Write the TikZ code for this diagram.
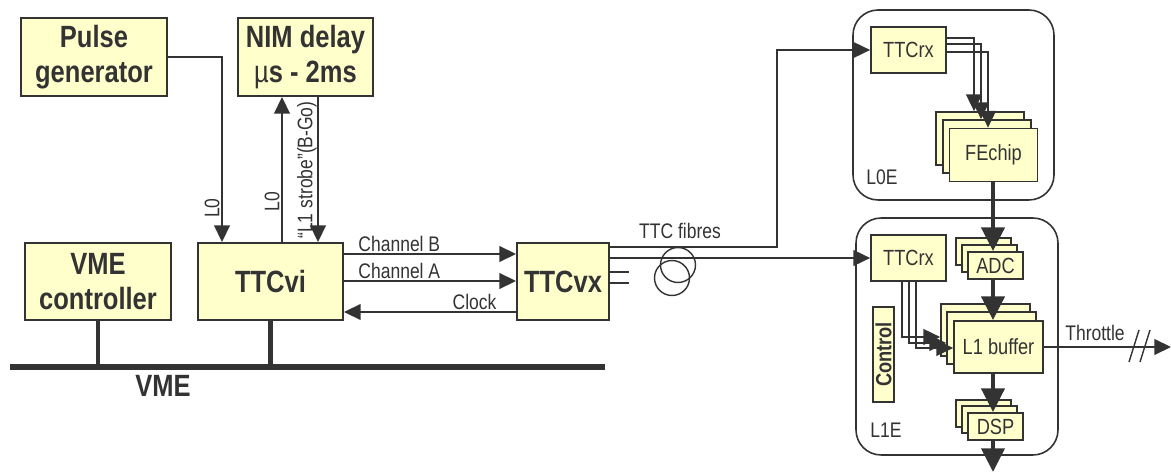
\documentclass[tikz,border=0pt]{standalone}
\usepackage{fontspec}
\setmainfont{Liberation Sans}[FakeStretch=0.83]
\usepackage{tikz}
\usetikzlibrary{arrows.meta}
\definecolor{boxyellow}{RGB}{255,255,204}
\definecolor{inkgray}{RGB}{51,51,51}
\tikzset{
  blk/.style={draw=inkgray, line width=1.1pt, fill=boxyellow, text=inkgray,
    font=\bfseries\fontsize{17.5}{20}\selectfont, align=center, inner sep=0pt},
  chip/.style={draw=inkgray, line width=1pt, fill=boxyellow, text=inkgray,
    font=\fontsize{12.5}{14}\selectfont, inner sep=0pt},
  crate/.style={draw=inkgray, line width=0.9pt, rounded corners=0.5cm, inner sep=0pt},
  sig/.style={color=inkgray, line width=0.8pt, -{Triangle[length=9.5pt,width=9pt]}},
  wire/.style={color=inkgray, line width=0.8pt},
  bus/.style={color=inkgray, line width=3.6pt},
  stem/.style={color=inkgray, line width=2.4pt},
  fat/.style={color=inkgray, line width=2.6pt, -{Triangle[length=13.5pt,width=13pt]}},
  lbl/.style={text=inkgray, font=\fontsize{12}{14}\selectfont, inner sep=1pt},
}

\begin{document}
\begin{tikzpicture}[x=0.02cm, y=-0.02cm]

  \path[fill=white, use as bounding box] (0,0) rectangle (1171,473);

  \node[blk, minimum width=2.92cm, minimum height=1.56cm] (pg)  at (94,57)     {Pulse\\generator};
  \node[blk, minimum width=2.7cm,  minimum height=1.56cm] (nim) at (305.5,57)  {NIM delay\\{\mdseries µ}s - 2ms};
  \node[blk, minimum width=2.92cm, minimum height=1.54cm] (vc)  at (98,281.5)  {VME\\controller};
  \node[blk, minimum width=2.9cm,  minimum height=1.54cm] (vi)  at (270.5,281.5) {TTCvi};
  \node[blk, minimum width=1.84cm, minimum height=1.54cm] (vx)  at (563,281.5) {TTCvx};

  \coordinate (bus0) at (10,367);
  \coordinate (bus1) at (605,367);
  \draw[bus] (bus0) -- (bus1);
  \draw[stem] (vc) -- (vc |- bus0);
  \draw[stem] (vi) -- (vi |- bus0);
  \node[lbl, font=\bfseries\fontsize{17.5}{20}\selectfont] (vme) at (163,386) {VME};

  \coordinate (pgx) at (222,0);
  \coordinate (up)  at (282,0);
  \coordinate (dn)  at (318,0);
  \draw[sig] (pg) -| (vi.north -| pgx);
  \node[lbl, rotate=90] (l0pg) at (212,208) {L0};
  \draw[sig] (vi.north -| up) -- node[lbl, sloped, above, pos=0.28] (l0nim) {L0} (nim.south -| up);
  \draw[sig] (nim.south -| dn) -- (vi.north -| dn);
  \node[lbl, rotate=90] (strobe) at (307,170) {“L1 strobe”(B-Go)};

  \coordinate (chb) at (0,254);
  \coordinate (cha) at (0,281);
  \coordinate (clk) at (0,312);
  \draw[sig] (vi.east |- chb) -- node[lbl, anchor=south west, pos=0.07] (chblbl) {Channel B} (vx.west |- chb);
  \draw[sig] (vi.east |- cha) -- node[lbl, anchor=south west, pos=0.07] (chalbl) {Channel A} (vx.west |- cha);
  \draw[sig] (vx.west |- clk) -- node[lbl, anchor=south east, pos=0.1] (clklbl) {Clock} (vi.east |- clk);

  \node[crate, minimum width=4.02cm, minimum height=3.8cm]  (l0e) at (953.5,105) {};
  \node[crate, minimum width=4.04cm, minimum height=4.74cm] (l1e) at (957,336.5) {};
  \node[lbl] (l0elbl) at (882,177) {L0E};
  \node[lbl] (l1elbl) at (886,430) {L1E};

  \node[chip, minimum width=1.5cm, minimum height=0.92cm] (rx0) at (908.5,50)  {TTCrx};
  \node[chip, minimum width=1.5cm, minimum height=0.92cm] (rx1) at (908.5,258) {TTCrx};

  \node[chip, minimum width=1.76cm, minimum height=1.06cm] (fe1) at (980,138.5) {};
  \node[chip, minimum width=1.76cm, minimum height=1.06cm] (fe2) at (987,146.5) {};
  \node[chip, minimum width=1.76cm, minimum height=1.06cm] (fe)  at (993.5,155) {FEchip};

  \node[chip, minimum width=1.1cm, minimum height=0.54cm] (adc1) at (983.5,251.5) {};
  \node[chip, minimum width=1.1cm, minimum height=0.54cm] (adc2) at (989.5,258.5) {};
  \node[chip, minimum width=1.1cm, minimum height=0.54cm] (adc)  at (995.5,265.5) {ADC};

  \node[chip, minimum width=1.78cm, minimum height=1.04cm] (l1b1) at (985.5,330) {};
  \node[chip, minimum width=1.78cm, minimum height=1.04cm] (l1b2) at (991.5,338) {};
  \node[chip, minimum width=1.78cm, minimum height=1.04cm] (l1b)  at (998.5,347) {L1 buffer};

  \node[chip, minimum width=1.1cm, minimum height=0.54cm] (dsp1) at (983.5,413.5) {};
  \node[chip, minimum width=1.1cm, minimum height=0.54cm] (dsp2) at (989.5,419.5) {};
  \node[chip, minimum width=1.1cm, minimum height=0.54cm] (dsp)  at (995.5,426.5) {DSP};

  \node[chip, font=\bfseries\fontsize{12.5}{14}\selectfont, rotate=90,
    minimum width=1.9cm, minimum height=0.42cm] (ctrl) at (883.5,354.5) {Control};

  \coordinate (spine) at (993,0);
  \coordinate (out)   at (993,472);
  \draw[fat] (fe.south -| spine)  -- (adc.north -| spine);
  \draw[fat] (adc.south -| spine) -- (l1b.north -| spine);
  \draw[fat] (l1b.south -| spine) -- (dsp.north -| spine);
  \draw[fat] (dsp.south -| spine) -- (out);

  \foreach \dy/\dx/\n in {0.24/-0.12/fe1, 0.12/-0.12/fe2, -0.04/-0.11/fe}
    \draw[sig] ([yshift=\dy cm]rx0.east) -| ([xshift=\dx cm]\n.north);
  \foreach \dx/\dy/\n in {-0.13/-0.14/l1b1, 0.01/-0.1/l1b2, 0.15/-0.02/l1b}
    \draw[sig] ([xshift=\dx cm]rx1.south) |- ([yshift=\dy cm]\n.west);

  \coordinate (f1)  at (609,247);
  \coordinate (f2)  at (609,258);
  \coordinate (f3)  at (609,272);
  \coordinate (f4)  at (609,283);
  \coordinate (f3e) at (629,272);
  \coordinate (f4e) at (629,283);
  \coordinate (bend) at (777,0);
  \draw[sig] (f1) -- (f1 -| bend) |- (rx0);
  \draw[sig] (f2) -- (f2 -| rx1.west);
  \draw[wire] (f3) -- (f3e);
  \draw[wire] (f4) -- (f4e);
  \draw[wire] (678,265) circle[radius=0.35cm];
  \draw[wire] (672,278) circle[radius=0.35cm];
  \node[lbl] (fib) at (680,231) {TTC fibres};

  \coordinate (thr) at (1171,0);
  \draw[sig] (l1b.east) -- (l1b.east -| thr);
  \draw[wire] (1129,362) -- (1139,330);
  \draw[wire] (1140,362) -- (1150,330);
  \node[lbl] (thrlbl) at (1095,333) {Throttle};

\end{tikzpicture}
\end{document}
